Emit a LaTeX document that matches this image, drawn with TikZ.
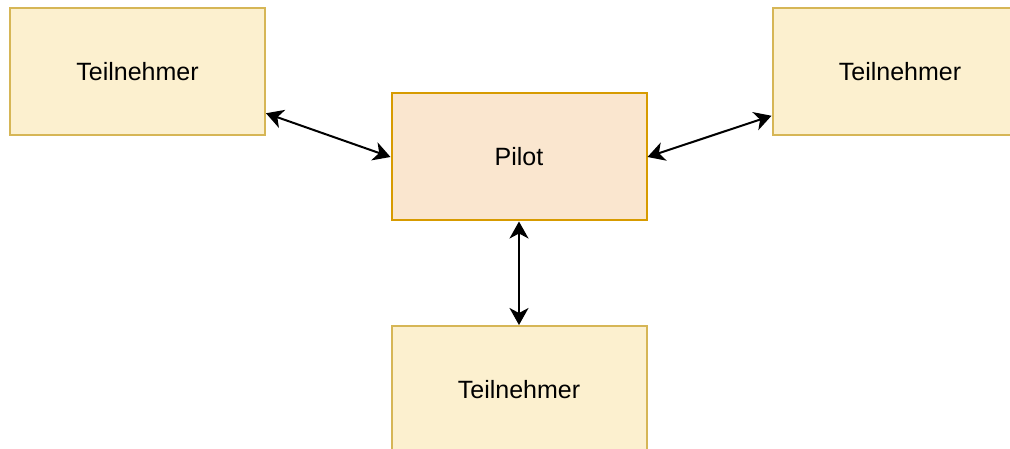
\documentclass[tikz,border=0pt]{standalone}
\usepackage{fontspec}
\setmainfont{Liberation Sans}
\usetikzlibrary{arrows.meta}
\definecolor{partfill}{HTML}{FCF0CF}
\definecolor{partline}{HTML}{D6B656}
\definecolor{pilotfill}{HTML}{FAE6CF}
\definecolor{pilotline}{HTML}{D79B00}
\begin{document}
\begin{tikzpicture}[x=1pt,y=-1pt,
    box/.style={draw, line width=2pt, minimum width=255pt, minimum height=127pt,
      font=\fontsize{25}{30}\selectfont},
    part/.style={box, fill=partfill, draw=partline},
    pilot/.style={box, fill=pilotfill, draw=pilotline},
    link/.style={line width=2pt, {Stealth[length=17pt,width=19pt,inset=5pt]}-{Stealth[length=17pt,width=19pt,inset=5pt]}}
  ]
        \useasboundingbox (0,0) rectangle (1010,449);
        \begin{scope}
        \clip (0,0) rectangle (1010,449);
        \node[part] (left) at (137.5,71.5) {Teilnehmer};
        \node[part] (right) at (900,71.5) {Teilnehmer};
        \node[pilot] (pilot) at (519,157) {Pilot};
        \node[part] (below) at (519,389.5) {Teilnehmer};
        \end{scope}
        \draw[link]
          (left.-18)
          -- (pilot.west);
        \draw[link]
          (pilot.east)
          -- (right.199);
        \draw[link]
          (pilot.south)
          -- (below.north);
      \end{tikzpicture}
\end{document}
